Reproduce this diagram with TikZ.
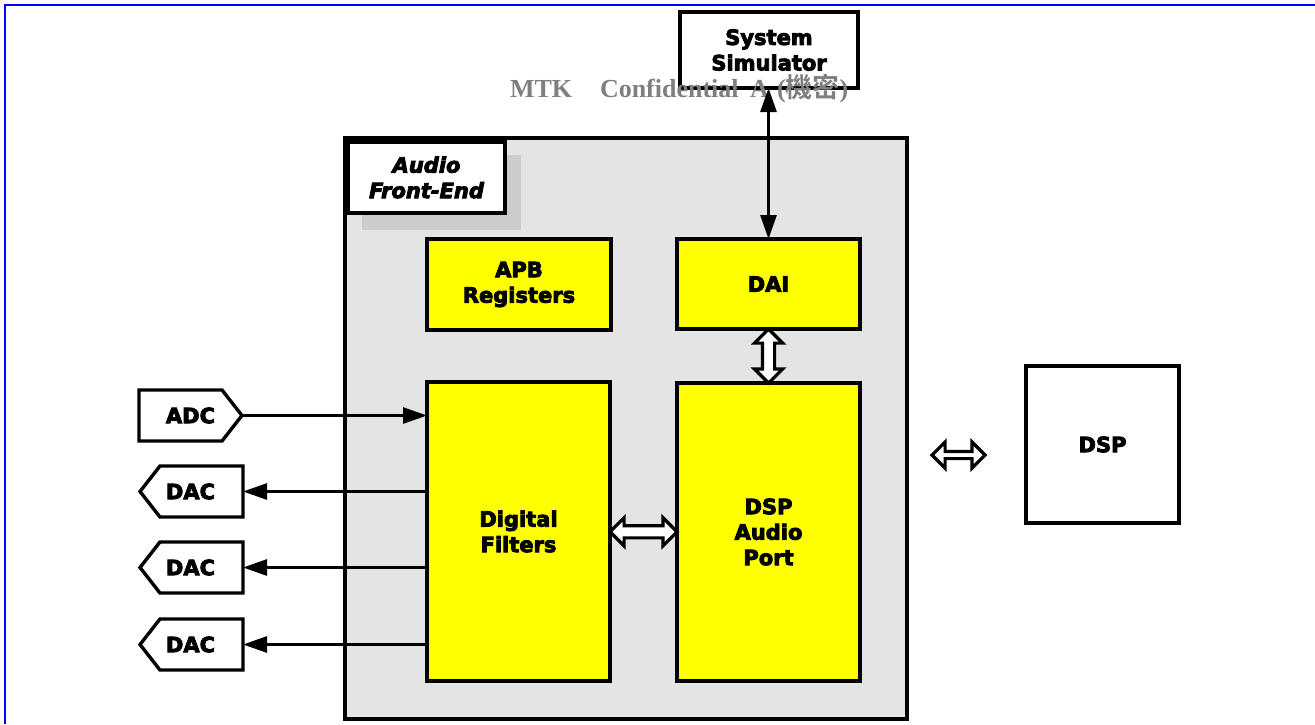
\documentclass[tikz,border=0pt]{standalone}
\usepackage{fontspec}
\usetikzlibrary{shapes.symbols,shapes.arrows,arrows.meta,calc}
\newfontfamily\boxfont{DejaVu Sans Bold}[FakeBold=4]
\newfontfamily\boxifont{DejaVu Sans Bold Oblique}[FakeBold=4]
\newfontfamily\wmfont{Liberation Serif Bold}
\newfontfamily\cjkfont{Noto Sans CJK TC Bold}
\definecolor{panelgray}{HTML}{E4E4E4}
\definecolor{shadowgray}{HTML}{CCCCCC}
\definecolor{wmgray}{HTML}{7F7F7F}
\definecolor{frameblue}{HTML}{0000FF}
\definecolor{blockyellow}{HTML}{FFFF00}
\begin{document}
\begin{tikzpicture}[x=1pt,y=-1pt,
  every node/.style={inner sep=0pt,outer sep=0pt},
  txt/.style={font=\boxfont\fontsize{21}{25.5}\selectfont,align=center},
  box/.style={draw=black,line width=3.4pt,rectangle,txt},
  ybox/.style={box,fill=blockyellow},
  wbox/.style={box,fill=white},
  sigbox/.style={draw=black,line width=3.4pt,fill=white,signal,signal pointer angle=104,minimum width=103pt,minimum height=51pt,txt},
  conn/.style={line width=2.8pt,-{Triangle[length=24pt,width=16pt]}},
  biconn/.style={line width=2.8pt,{Triangle[length=24pt,width=16pt]}-{Triangle[length=24pt,width=16pt]}},
  hollow/.style={double arrow,draw=black,fill=white,line width=3.2pt,inner xsep=0pt,inner ysep=4.5pt,double arrow head extend=8pt,minimum width=0pt},
  wm/.style={anchor=base west,text=wmgray,font=\wmfont\fontsize{26}{26}\selectfont},
]
\useasboundingbox (0,0) rectangle (1315,724);
% blue frame (top and left edges)
\draw[frameblue,line width=2.5pt] (5,724) -- (5,5) -- (1315,5);

% outer panel
\node[draw=black,line width=3.4pt,fill=panelgray,minimum width=562pt,minimum height=581pt] (panel) at (626,428.5) {};
% Audio Front-End label with shadow
\node[fill=shadowgray,minimum width=159pt,minimum height=75pt] (afeshadow) at (441.5,192.5) {};
\node[wbox,minimum width=157pt,minimum height=71pt,font=\boxifont\fontsize{21}{25.5}\selectfont] (afe) at (426.5,177.5) {Audio\\Front-End};

% blocks
\node[ybox,minimum width=184pt,minimum height=91pt] (apb) at (519,284.5) {APB\\Registers};
\node[ybox,minimum width=183pt,minimum height=90pt] (dai) at (768.5,284) {DAI};
\node[ybox,minimum width=183pt,minimum height=299pt] (filt) at (518.5,531.5) {Digital\\Filters};
\node[ybox,minimum width=183pt,minimum height=298pt] (dspap) at (768.5,532) {DSP\\Audio\\Port};
\node[wbox,minimum width=153pt,minimum height=157pt] (dsp) at (1102.5,444.5) {DSP};
\node[wbox,minimum width=178pt,minimum height=76pt] (sim) at (769,50) {System\\Simulator};

% watermark
\node[wm] (wm1) at (510,97) {MTK};
\node[wm] (wm2) at (600,97) {Confidential};
\node[wm] (wm3) at (750,97) {A};
\node[wm] (wm4) at (777,97) {(\cjkfont\fontsize{27}{27}\selectfont 機密\wmfont\fontsize{26}{26}\selectfont)};

% ADC / DAC
\node[sigbox,signal to=east] (adc) at (180.5,415.5) {\hspace*{20pt}ADC};
\node[sigbox,signal to=west] (dac1) at (201.5,491.5) {DAC\hspace*{22pt}};
\node[sigbox,signal to=west] (dac2) at (201.5,567.5) {DAC\hspace*{22pt}};
\node[sigbox,signal to=west] (dac3) at (201.5,644.5) {DAC\hspace*{22pt}};

% connectors
\draw[conn] (adc.east) -- (adc.east -| filt.west);
\draw[conn] (dac1.east -| filt.west) -- (dac1.east);
\draw[conn] (dac2.east -| filt.west) -- (dac2.east);
\draw[conn] (dac3.east -| filt.west) -- (dac3.east);
\draw[biconn] (sim.south -| dai.north) -- (dai.north);

% hollow double arrows
\path let \p1=(dai.south), \p2=(dspap.north), \n1={veclen(\x2-\x1,\y2-\y1)} in
  node[hollow,rotate=90,minimum height=\n1] (busv) at ($(dai.south)!0.5!(dspap.north)$) {};
\path let \p1=(filt.east), \p2=(dspap.west), \n1={veclen(\x2-\x1,\y2-\y1)} in
  node[hollow,minimum height=\n1] (bush) at ($(filt.east)!0.5!(dspap.west)$) {};
\node[hollow,inner ysep=2pt,double arrow head extend=9.5pt,minimum height=53pt] (busdsp) at (958.5,455) {};
\end{tikzpicture}
\end{document}
